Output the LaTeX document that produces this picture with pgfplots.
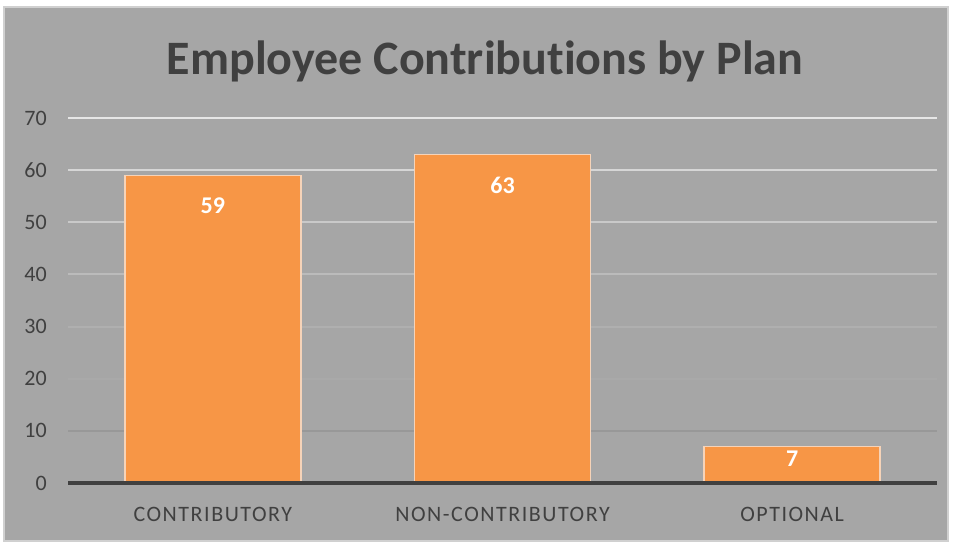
\documentclass[border=0pt]{standalone}
\usepackage{pgfplots}
\pgfplotsset{compat=1.18}
\usepackage{fontspec}
\setmainfont{Carlito}[Ligatures=NoCommon]
\definecolor{bg}{HTML}{A6A6A6}
\definecolor{frame}{HTML}{D0D0D0}
\definecolor{bar}{HTML}{F79646}
\definecolor{barline}{HTML}{F6D3B8}
\definecolor{txt}{HTML}{404040}
\definecolor{g70}{HTML}{E6E6E6}
\definecolor{g60}{HTML}{D6D6D6}
\definecolor{g50}{HTML}{C9C9C9}
\definecolor{g40}{HTML}{BBBBBB}
\definecolor{g30}{HTML}{AFAFAF}
\definecolor{g20}{HTML}{A9A9A9}
\definecolor{g10}{HTML}{989898}
\begin{document}
\begin{tikzpicture}[x=1bp,y=1bp]
\fill[white] (0,0) rectangle (953,543);
\fill[bg] (4,2) rectangle (948,536);
\draw[frame, line width=1.5bp] (4,2) rectangle (948,536);
\node[txt, font=\fontsize{48bp}{52bp}\selectfont\bfseries, anchor=base] at (485,468) {Employee Contributions by Plan};
\begin{axis}[
  at={(68bp,60bp)}, anchor=south west,
  scale only axis, width=869bp, height=365bp,
  xmin=-0.5, xmax=2.5, ymin=0, ymax=70,
  axis line style={draw=none},
  xtick={0,1,2},
  xticklabels={CONTRIBUTORY,NON-CONTRIBUTORY,OPTIONAL},
  ytick={0,10,...,70},
  major tick length=0pt,
  xticklabel style={txt, font=\fontsize{22bp}{24bp}\selectfont\addfontfeature{LetterSpace=7}, anchor=base, yshift=-39bp},
  yticklabel style={txt, font=\fontsize{22bp}{24bp}\selectfont, anchor=east, inner sep=0pt, xshift=-21bp},
  /pgf/number format/assume math mode=true,
  clip=false,
]
\draw[g70, line width=2bp] (axis cs:-0.5,70) -- (axis cs:2.5,70);
\draw[g60, line width=2bp] (axis cs:-0.5,60) -- (axis cs:2.5,60);
\draw[g50, line width=2bp] (axis cs:-0.5,50) -- (axis cs:2.5,50);
\draw[g40, line width=2bp] (axis cs:-0.5,40) -- (axis cs:2.5,40);
\draw[g30, line width=2bp] (axis cs:-0.5,30) -- (axis cs:2.5,30);
\draw[g20, line width=2bp] (axis cs:-0.5,20) -- (axis cs:2.5,20);
\draw[g10, line width=2bp] (axis cs:-0.5,10) -- (axis cs:2.5,10);
\addplot[ybar, bar width=176bp, fill=bar, draw=barline, line width=1.5bp,
  visualization depends on={\thisrow{dy} \as \dy},
  nodes near coords,
  nodes near coords style={white, font=\fontsize{24bp}{26bp}\selectfont\bfseries, anchor=center, yshift=\dy bp},
  point meta=explicit symbolic]
  table[x=x, y=y, meta=y] {
x y dy
0 59 -30
1 63 -30.5
2 7 -12.5
};
\draw[txt, line width=3.5bp] (axis cs:-0.5,0) -- (axis cs:2.5,0);
\end{axis}
\end{tikzpicture}
\end{document}
